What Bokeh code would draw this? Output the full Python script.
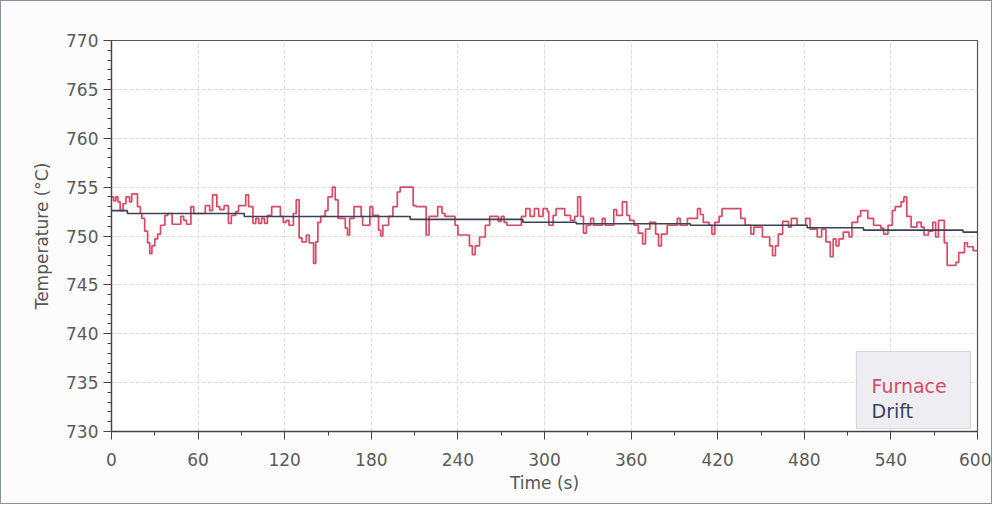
from bokeh.plotting import figure
from bokeh.models import Range1d, FixedTicker, BoxAnnotation, Label
from bokeh.embed import file_html
from bokeh.resources import INLINE

# Furnace temperature (step series): time of change (s) and value held (°C)
furnace_t = [0, 1.5, 3, 4.5, 6, 8, 10, 12.5, 14, 18, 20, 21, 23, 25, 26.5, 28, 30, 32, 34, 37,
             39, 42, 48, 50, 52, 55, 57, 65, 68, 70, 73, 75, 78, 81, 83, 86, 88, 93, 95, 98,
             100, 102, 104, 106, 108, 111, 117, 119, 121, 123, 126, 128, 130, 132, 135, 137, 140, 141.5, 143, 145,
             148, 150, 153, 155, 157, 162, 163.5, 165, 168, 173, 174, 179, 181, 185, 186.5, 188, 192, 195, 198, 200,
             209, 211, 218, 220, 226, 229, 231, 238, 240, 248, 250, 252, 255, 259, 262, 268, 270, 272, 274, 284,
             287, 290, 293, 296, 299, 302, 303, 306, 308, 314, 318, 321, 323, 325, 327, 329, 332, 334, 340, 342,
             348, 350, 354, 357, 359, 362, 365, 368, 370, 373, 377, 379, 381, 385, 392, 394, 399, 406, 408, 410,
             414, 416, 418, 421, 423, 436, 439, 443, 445, 451, 456, 458, 460, 462, 465, 469, 471, 475, 481, 484,
             489, 492, 495, 498, 500, 502, 504, 507, 511, 513, 517, 519, 524, 528, 533, 535, 538, 541, 543, 547,
             549, 551, 554, 558, 561, 563, 566, 569, 571, 573, 577, 579, 585, 587, 591, 593, 597, 600]
furnace_v = [754, 753.6, 754, 753.5, 752.6, 753.3, 754, 753.5, 754.3, 753, 752.3, 751.8, 750.5, 749.3, 748.2, 749, 749.7, 750.2, 751.1, 752.1,
             752.3, 751.2, 752, 751.6, 751.2, 753, 752.3, 753.1, 752.6, 754.2, 753, 752.7, 753.1, 751.3, 752.1, 752.5, 753.1, 754.2, 753, 751.3,
             751.8, 751.3, 751.8, 751.3, 752.1, 753, 752, 751.4, 751.6, 751.1, 752.3, 753.7, 749.8, 749.4, 750.1, 749.3, 747.2, 749.4, 751.4, 752,
             752.6, 754, 755, 753.7, 751.8, 750.8, 750.1, 751.8, 753, 752, 751.1, 753, 752.1, 750.6, 750, 751.1, 752, 753, 754.5, 755,
             753.1, 753, 750.1, 752, 753, 752.3, 752, 751.1, 750.1, 749, 748.1, 749, 749.9, 751.1, 752, 751.5, 752, 751.4, 751.1, 752,
             752.8, 752, 752.8, 752, 752.8, 752.5, 751.1, 752.1, 752.8, 752.1, 751.6, 752, 754, 752, 750.3, 751.1, 751.8, 751.1, 751.8, 751.1,
             752.7, 752.1, 753.5, 752.1, 751.6, 751.1, 750.3, 749.2, 750.7, 751.4, 750.2, 749, 750.2, 751.1, 751.8, 751.1, 751.8, 752.8, 752.2, 751.4,
             751.1, 750.2, 751.4, 752, 752.8, 751.8, 751.1, 750.2, 750.9, 749.9, 749, 748, 749, 750.2, 751.5, 750.9, 751.8, 751.1, 751.8, 750.7,
             749.9, 750.7, 749.4, 747.9, 749.7, 749, 749.7, 750.4, 749.9, 751.4, 752, 752.6, 751.8, 751.1, 750.8, 750.2, 751.1, 752.6, 753, 753.5,
             754, 752, 750.9, 751.4, 750.9, 750.1, 750.5, 751.4, 749.9, 751.6, 749.3, 747, 747.3, 748.3, 749.3, 748.9, 748.5, 748.5]

# Drift (step series)
drift_t = [0, 11, 92, 207, 285, 322, 401, 482, 521, 590, 600]
drift_v = [752.6, 752.3, 752.0, 751.7, 751.4, 751.25, 751.1, 750.85, 750.6, 750.4, 750.4]

x_major = [0, 60, 120, 180, 240, 300, 360, 420, 480, 540, 600]
y_major = [730, 735, 740, 745, 750, 755, 760, 765, 770]
series_names = ["Furnace", "Drift"]
series_colors = ["#d84a63", "#3a4258"]

FONT = "DejaVu Sans"

p = figure(width=992, height=504, output_backend="svg", toolbar_location=None,
           x_range=Range1d(0, 600), y_range=Range1d(730, 770),
           min_border_left=110, min_border_right=16, min_border_top=39, min_border_bottom=74,
           x_axis_label="Time (s)", y_axis_label="Temperature (°C)")
p.styles = {"border": "1px solid #8592a6"}

p.step(furnace_t, furnace_v, mode="after", line_color=series_colors[0], line_width=1.7)
p.step(drift_t, drift_v, mode="after", line_color=series_colors[1], line_width=1.6)

p.background_fill_color = "white"
p.border_fill_color = "#fcfcfc"
p.outline_line_color = "#555555"
p.outline_line_width = 1.2

p.xaxis.ticker = FixedTicker(ticks=x_major, minor_ticks=[v + 30 for v in x_major[:-1]])
p.yaxis.ticker = FixedTicker(ticks=y_major, minor_ticks=[v for v in range(730, 771)])

for ax in (p.xaxis[0], p.yaxis[0]):
    ax.axis_line_color = "#444444"
    ax.axis_line_width = 1.3
    ax.major_tick_line_color = "#444444"
    ax.minor_tick_line_color = "#444444"
    ax.major_tick_in = 0
    ax.major_tick_out = 8
    ax.minor_tick_in = 0
    ax.minor_tick_out = 4
    ax.major_label_text_font = FONT
    ax.major_label_text_font_size = "17px"
    ax.major_label_text_color = "#5a5a5a"
    ax.axis_label_text_font = FONT
    ax.axis_label_text_font_size = "17px"
    ax.axis_label_text_font_style = "normal"
    ax.axis_label_text_color = "#555555"

p.xaxis.major_label_standoff = 13
p.xaxis.axis_label_standoff = 4
p.yaxis.major_label_standoff = 5
p.yaxis.axis_label_standoff = 11

p.xgrid.grid_line_color = "#dcdcdc"
p.ygrid.grid_line_color = "#dcdcdc"
p.xgrid.grid_line_dash = "4 2"
p.ygrid.grid_line_dash = "4 2"

# Legend box (bottom-right inside frame)
box = BoxAnnotation(left=745, right=859, bottom=3, top=80,
                    left_units="screen", right_units="screen", bottom_units="screen", top_units="screen",
                    fill_color="#eeeef2", fill_alpha=1, line_color="#8c8c8c", line_width=1.2)
p.add_layout(box)
p.add_layout(Label(x=760, y=46, x_units="screen", y_units="screen", text=series_names[0],
                   text_color=series_colors[0], text_font=FONT, text_font_size="19px",
                   text_baseline="alphabetic"))
p.add_layout(Label(x=760, y=21, x_units="screen", y_units="screen", text=series_names[1],
                   text_color=series_colors[1], text_font=FONT, text_font_size="19px",
                   text_baseline="alphabetic"))

open("out.html", "w").write(file_html(p, INLINE))
